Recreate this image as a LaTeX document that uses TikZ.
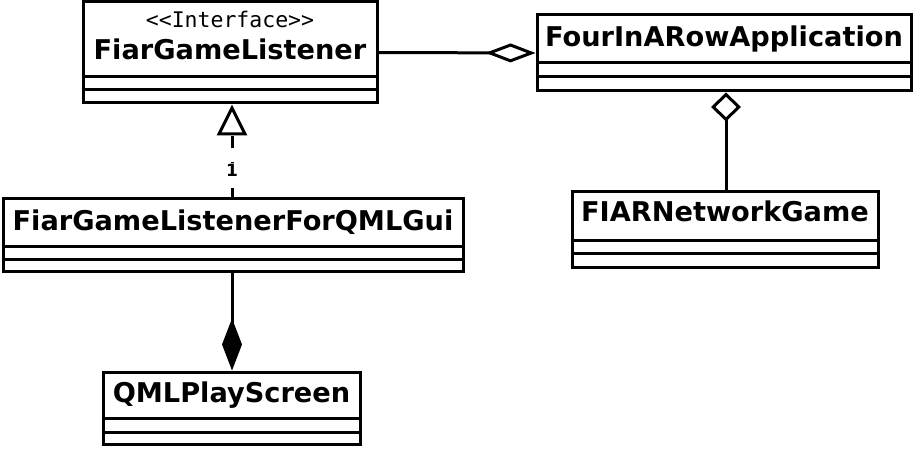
\documentclass[tikz,border=0pt]{standalone}
\usepackage{fontspec}
\setmainfont{DejaVu Sans}
\newfontfamily\monof{DejaVu Sans Mono}
\usetikzlibrary{arrows.meta}
\tikzset{
  box/.style={draw, line width=3pt, fill=white, inner sep=0pt, rectangle},
  cname/.style={anchor=base, inner sep=0pt, font=\fontsize{27.2}{27.2}\selectfont\bfseries},
  conn/.style={line width=3pt},
}
\newcommand{\comps}[3]{% node, y1, y2
  \draw[line width=3pt] (#1.west |- 0,#2) -- (#1.east |- 0,#2);
  \draw[line width=3pt] (#1.west |- 0,#3) -- (#1.east |- 0,#3);
}
\begin{document}
\begin{tikzpicture}[x=1pt,y=-1pt]
\useasboundingbox[fill=white] (0,0) rectangle (918,449);
% FiarGameListener
\node[box, minimum width=294pt, minimum height=101pt] (fgl) at (230,52.5) {};
\comps{fgl}{77}{90}
\node[anchor=base, inner sep=0pt, font=\monof\fontsize{21.5}{21.5}\selectfont] (fglst) at (230,28) {<<Interface>>};
\node[cname] (fglt) at (230,60) {FiarGameListener};
% FourInARowApplication
\node[box, minimum width=374pt, minimum height=76pt] (fira) at (724,53) {};
\comps{fira}{63}{77}
\node[cname] (firat) at (724,47) {FourInARowApplication};
% FIARNetworkGame
\node[box, minimum width=306pt, minimum height=75pt] (net) at (725,229.5) {};
\comps{net}{240}{253}
\node[cname] (nett) at (725,222) {FIARNetworkGame};
% FiarGameListenerForQMLGui
\node[box, minimum width=460pt, minimum height=72pt] (qmlgui) at (233,235) {};
\comps{qmlgui}{246}{259}
\node[cname] (qmlguit) at (233,230) {FiarGameListenerForQMLGui};
% QMLPlayScreen
\node[box, minimum width=257pt, minimum height=72pt] (qml) at (231.5,408) {};
\comps{qml}{418}{432}
\node[cname] (qmlt) at (231.5,402) {QMLPlayScreen};
% connectors
\draw[conn, -{Diamond[open, length=50pt, width=19pt]}] (fgl.east) -- (fira.west);
\draw[conn, -{Diamond[open, length=29pt, width=30pt]}] (net.north -| 726,0) -- (fira.south -| 726,0);
\draw[conn, dash pattern=on 12pt off 14pt, dash phase=3pt, -{Triangle[open, length=31pt, width=30pt]}] (qmlgui.north -| 232,0) -- (fgl.south -| 232,0);
\node[fill=white, inner sep=1pt, font=\fontsize{17}{17}\selectfont\bfseries] (one) at (232,170) {1};
\draw[conn, -{Diamond[length=52pt, width=20pt]}] (qmlgui.south -| 232,0) -- (qml.north -| 232,0);
\end{tikzpicture}
\end{document}
